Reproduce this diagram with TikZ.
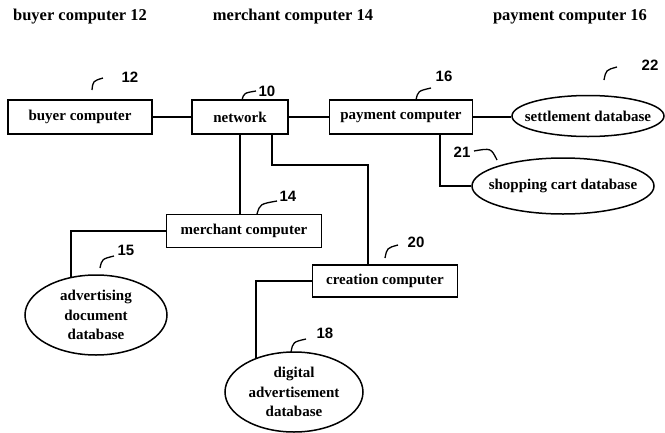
\documentclass[tikz,border=0pt]{standalone}
\usepackage{fontspec}
\setmainfont{Liberation Serif}
\newfontfamily\numfont{Liberation Sans}
\usetikzlibrary{shapes.geometric}
\tikzset{
  box/.style={draw, line width=1.5pt, rectangle, inner sep=0pt, font=\bfseries\fontsize{15}{18}\selectfont},
  dbase/.style={draw, line width=1.5pt, ellipse, inner sep=0pt},
  dbtext/.style={inner sep=0pt, font=\bfseries\fontsize{15}{19.5}\selectfont, align=center},
  wire/.style={line width=1.5pt},
  tick/.style={line width=1.3pt},
  num/.style={font=\numfont\bfseries\fontsize{15}{17}\selectfont},
  head/.style={font=\bfseries\fontsize{16.5}{19}\selectfont}
}
\begin{document}
\begin{tikzpicture}[x=1pt,y=-1pt]
\useasboundingbox (0,0) rectangle (665,432);
% headers
\node[head] (h1) at (80,17) {buyer computer 12};
\node[head] (h2) at (293,17) {merchant computer 14};
\node[head] (h3) at (570,17) {payment computer 16};
% boxes
\node[box, minimum width=144, minimum height=34] (buyer) at (80,117) {buyer computer};
\node[box, minimum width=96, minimum height=34] (net) at (240,117) {network};
\node[box, minimum width=143, minimum height=34] (pay) at (401,117) {payment computer};
\node[dbase, minimum width=152, minimum height=41, label={[dbtext]center:settlement database}] (settle) at (588,116) {};
\node[dbase, minimum width=182, minimum height=56, label={[dbtext]center:shopping cart database}] (cart) at (563,186) {};
\node[box, minimum width=155, minimum height=33] (merchant) at (244,231) {merchant computer};
\node[box, minimum width=145, minimum height=32] (creation) at (385,281) {creation computer};
\node[dbase, minimum width=142, minimum height=80, label={[dbtext]center:advertising\\document\\database}] (adv) at (96,315) {};
\node[dbase, minimum width=138, minimum height=80, label={[dbtext]center:digital\\advertisement\\database}] (digital) at (294,392) {};
% connectors
\draw[wire] (buyer.east) -- (net.west);
\draw[wire] (net.east) -- (pay.west);
\draw[wire] (pay.east) -- (pay.east -| settle.west);
\draw[wire] (net.south) -- (net.south |- merchant.north);
\coordinate (j1) at (272,165);
\draw[wire] (j1 |- net.south) -- (j1) -| ([xshift=-17pt]creation.north);
\coordinate (j2) at (440,0);
\draw[wire] (j2 |- pay.south) |- (cart.west);
\draw[wire] (merchant.west) -| (adv.123);
\draw[wire] (creation.west) -| (digital.138);
% reference numerals
\node[num] (n12) at (130,77) {12};
\draw[tick] (92,90) .. controls (93,81) .. (103,78);
\node[num] (n10) at (267,91) {10};
\draw[tick] (242,100) .. controls (244,93) .. (256,91);
\node[num] (n16) at (444,76) {16};
\draw[tick] (416,100) .. controls (418,91) .. (431,88);
\node[num] (n22) at (650,65) {22};
\draw[tick] (604,80) .. controls (606,70) .. (617,67);
\node[num] (n21) at (462,152) {21};
\draw[tick] (474,151) .. controls (491,148) .. (497,160);
\node[num] (n14) at (288,196) {14};
\draw[tick] (257,214) .. controls (260,204) .. (277,201);
\node[num] (n15) at (126,250) {15};
\draw[tick] (100,268) .. controls (102,259) .. (114,256);
\node[num] (n20) at (416,242) {20};
\draw[tick] (385,258) .. controls (387,248) .. (398,245);
\node[num] (n18) at (325,333) {18};
\draw[tick] (291,352) .. controls (293,342) .. (306,339);
\end{tikzpicture}
\end{document}
